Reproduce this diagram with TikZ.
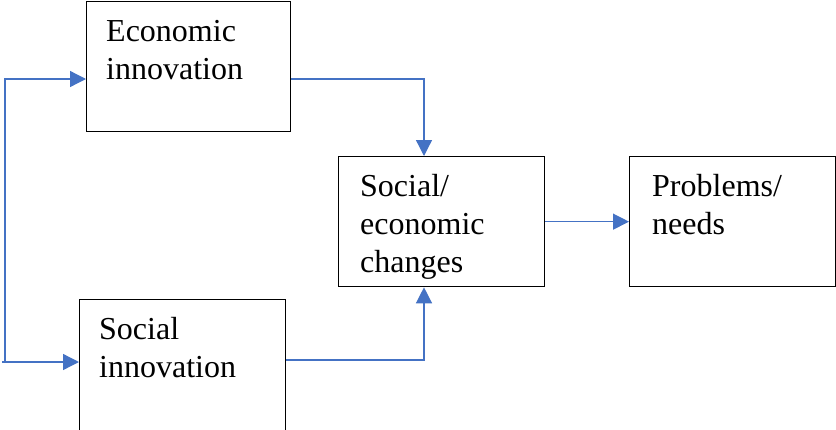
\documentclass[tikz,border=0pt]{standalone}
\usepackage{fontspec}
\setmainfont{Liberation Serif}
\usetikzlibrary{arrows.meta,calc}

\definecolor{flowblue}{RGB}{68,114,196}

\tikzset{
  box/.style={draw=black, line width=1.3pt, inner sep=0pt, anchor=north west,
    minimum width=206pt, minimum height=130pt},
  lbl/.style={anchor=north west, inner sep=0pt, align=left,
    font=\fontsize{32}{38}\selectfont},
  flow/.style={draw=flowblue, line width=1.3pt,
    -{Triangle[length=16pt,width=16pt]}}
}

\begin{document}
\begin{tikzpicture}[x=1pt,y=-1pt]
\useasboundingbox (0,0) rectangle (836,429);

%% boxes
\node[box, minimum width=204pt] (eco) at (86,1) {};
\node[box, minimum height=136pt] (soc) at (79,299) {};
\node[box] (mid) at (338,156) {};
\node[box] (prob) at (629,156) {};

%% texts
\node[lbl] (ecoT) at ($(eco.north west)+(20,19)$) {Economic\\innovation};
\node[lbl] (socT) at ($(soc.north west)+(20,18)$) {Social\\innovation};
\node[lbl] (midT) at ($(mid.north west)+(22,18)$) {Social/\\economic\\changes};
\node[lbl] (probT) at ($(prob.north west)+(23,18)$) {Problems/\\needs};

%% arrows
\coordinate (fork) at (5,362);
\coordinate (up) at (5,79);
\coordinate (join) at (424,0);
\draw[flow] (fork) -- (up) -- (eco.west |- up);
\draw[flow] ([xshift=-3pt]fork) -- (soc.west |- fork);
\draw[flow] (eco.east |- up) -| (join |- mid.north);
\draw[flow] (soc.east |- 0,360) -| (join |- mid.south);
\draw[flow] (mid.east) -- (prob.west);

\end{tikzpicture}
\end{document}
